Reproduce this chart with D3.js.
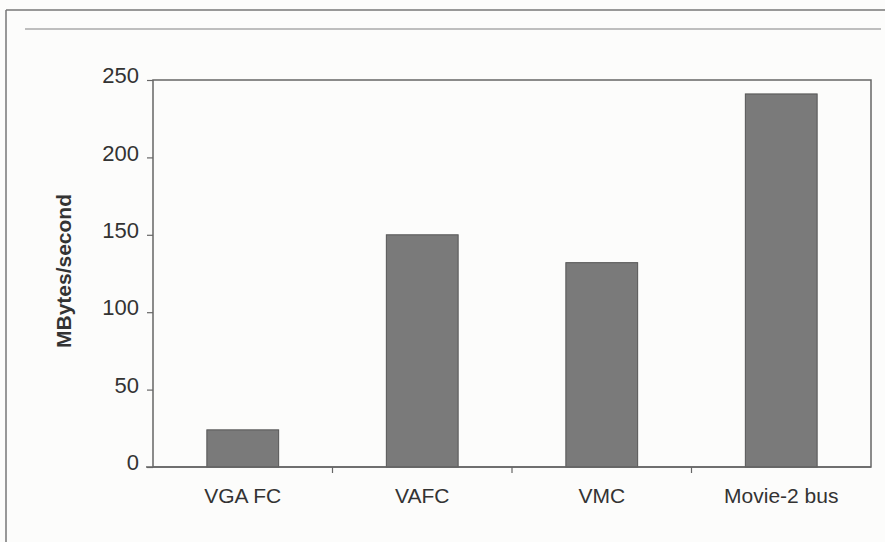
<!DOCTYPE html>
<html>
<head>
<meta charset="utf-8">
<script src="https://cdn.jsdelivr.net/npm/d3@7"></script>
<style>
  body { margin: 0; background: #fcfcfb; }
  text { font-family: "Liberation Sans", Arial, sans-serif; fill: #333; }
</style>
</head>
<body>
<div id="chart"></div>
<script>
(function () {

  // Data
  const categories = ["VGA FC", "VAFC", "VMC", "Movie-2 bus"]
  const values = [24, 150, 132, 241]
  const yTicks = [0, 50, 100, 150, 200, 250]

  // Margin convention
  const W = 885, H = 542
  const margin = { top: 80, right: 14, bottom: 75, left: 153 }
  const width = W - margin.left - margin.right
  const height = H - margin.top - margin.bottom

  const root = d3.select("#chart").append("svg")
      .attr("width", W)
      .attr("height", H)

  // Page frame lines (scan border)
  root.append("line").attr("x1", 6).attr("x2", W).attr("y1", 10).attr("y2", 10)
    .attr("stroke", "#777").attr("stroke-width", 1.5)
  root.append("line").attr("x1", 6).attr("x2", 6).attr("y1", 10).attr("y2", H)
    .attr("stroke", "#777").attr("stroke-width", 1.5)
  root.append("line").attr("x1", 25).attr("x2", 881).attr("y1", 29).attr("y2", 29)
    .attr("stroke", "#aaa").attr("stroke-width", 1.5)

  const svg = root.append("g")
      .attr("transform", "translate(" + margin.left + "," + margin.top + ")")

  // Scales
  const x = d3.scaleBand()
    .domain(categories)
    .range([0, width])
    .paddingInner(0.6)
    .paddingOuter(0.3)

  const xBand = d3.scaleBand()
    .domain(categories)
    .range([0, width])

  const y = d3.scaleLinear()
    .domain([0, 250])
    .range([height, 0])

  // Plot area frame
  svg.append("rect")
    .attr("width", width)
    .attr("height", height)
    .attr("fill", "none")
    .attr("stroke", "#666")
    .attr("stroke-width", 1.5)

  // Bars
  svg.selectAll(".bar")
    .data(values)
    .join("rect")
    .attr("class", "bar")
    .attr("x", (d, i) => x(categories[i]))
    .attr("width", x.bandwidth())
    .attr("y", d => y(d))
    .attr("height", d => height - y(d))
    .attr("fill", "#7a7a7a")
    .attr("stroke", "#555")
    .attr("stroke-width", 1)

  // Y axis
  const yAxis = svg.append("g")
    .call(d3.axisLeft(y).tickValues(yTicks).tickSize(6).tickPadding(8))
  yAxis.select(".domain").remove()
  yAxis.selectAll("line").attr("stroke", "#666").attr("stroke-width", 1.2)
  yAxis.selectAll("text")
    .style("font-size", "22px")
    .attr("dy", "0.12em")
    .attr("fill", "#333")

  // X axis (ticks at category boundaries)
  const xAxis = svg.append("g")
    .attr("transform", "translate(0," + height + ")")
  xAxis.append("line").attr("x1", -7).attr("x2", width)
    .attr("stroke", "#666").attr("stroke-width", 1.5)
  xAxis.selectAll(".sep")
    .data(categories.slice(1))
    .join("line")
    .attr("class", "sep")
    .attr("x1", d => xBand(d)).attr("x2", d => xBand(d))
    .attr("y1", 0).attr("y2", 6)
    .attr("stroke", "#666").attr("stroke-width", 1.2)
  xAxis.selectAll(".cat")
    .data(categories)
    .join("text")
    .attr("class", "cat")
    .attr("x", d => xBand(d) + xBand.bandwidth() / 2)
    .attr("y", 36)
    .attr("text-anchor", "middle")
    .style("font-size", "21px")
    .text(d => d)

  // Y axis label
  svg.append("text")
    .attr("transform", "rotate(-90)")
    .attr("x", -(271 - margin.top))
    .attr("y", -82)
    .attr("text-anchor", "middle")
    .style("font-size", "21px")
    .style("font-weight", "bold")
    .attr("fill", "#2a2a2a")
    .text("MBytes/second")

})();
</script>
</body>
</html>
